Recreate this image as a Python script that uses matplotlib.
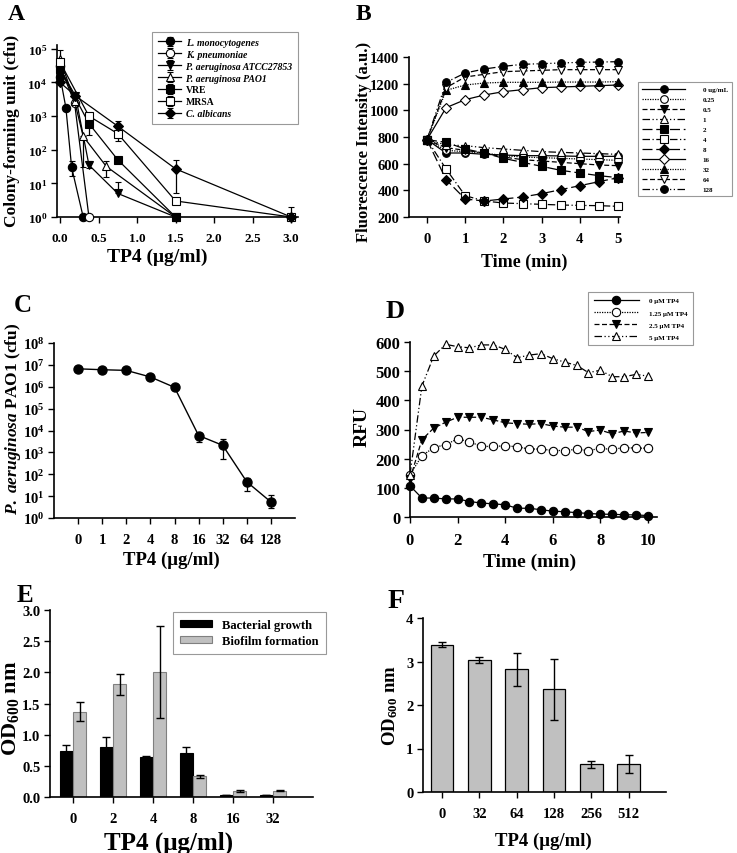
import matplotlib
matplotlib.use("Agg")
import matplotlib.pyplot as plt
import numpy as np
from matplotlib.ticker import NullLocator, LogLocator, FormatStrFormatter

plt.rcParams['font.family'] = ['Liberation Serif', 'DejaVu Serif']
plt.rcParams['font.weight'] = 'bold'
plt.rcParams['axes.labelweight'] = 'bold'
plt.rcParams['mathtext.fontset'] = 'custom'
plt.rcParams['mathtext.rm'] = 'Liberation Serif:bold'
plt.rcParams['mathtext.bf'] = 'Liberation Serif:bold'
plt.rcParams['mathtext.it'] = 'Liberation Serif:italic:bold'
plt.rcParams['axes.linewidth'] = 1.2
plt.rcParams['xtick.major.width'] = 1.0
plt.rcParams['ytick.major.width'] = 1.0
plt.rcParams['xtick.major.size'] = 4
plt.rcParams['ytick.major.size'] = 4

W, H = 737, 854
fig = plt.figure(figsize=(W / 100, H / 100), dpi=100)

# ---------------- data: panel A ----------------
a_names = ['L. monocytogenes', 'K. pneumoniae', 'P. aeruginosa ATCC27853',
           'P. aeruginosa PAO1', 'VRE', 'MRSA', 'C. albicans']
lm_x = [0, 0.075, 0.15, 0.3]
lm_y = [1.5e4, 1.8e3, 30, 1]
lm_lo = [0, 0, 13, 0]
lm_hi = [0, 0, 15, 0]
kp_x = [0, 0.1875, 0.375]
kp_y = [3e4, 2.5e3, 1]
kp_lo = [0, 0, 0]
kp_hi = [0, 0, 0]
atcc_x = [0, 0.2, 0.375, 0.75, 1.5]
atcc_y = [2.5e4, 4e3, 35, 5, 1]
atcc_lo = [0, 0, 7, 0, 0]
atcc_hi = [0, 0, 10, 6, 0]
pao_x = [0, 0.1875, 0.3, 0.6, 1.5]
pao_y = [5e4, 2.8e3, 250, 32, 1]
pao_lo = [2e4, 0, 220, 17, 0]
pao_hi = [4e4, 0, 0, 15, 0]
vre_x = [0, 0.375, 0.75, 1.5]
vre_y = [2.5e4, 600, 50, 1]
vre_lo = [0, 325, 0, 0]
vre_hi = [0, 0, 0, 0]
mrsa_x = [0, 0.375, 0.75, 1.5, 3.0]
mrsa_y = [4e4, 1000, 300, 3, 1]
mrsa_lo = [1.5e4, 0, 120, 0, 0]
mrsa_hi = [0, 0, 0, 0, 0]
ca_x = [0, 0.2, 0.75, 1.5, 3.0]
ca_y = [1e4, 4e3, 500, 27, 1]
ca_lo = [0, 0, 200, 22, 0]
ca_hi = [0, 0, 200, 21, 1]

# ---------------- data: panel B ----------------
b_time = [0, 0.5, 1, 1.5, 2, 2.5, 3, 3.5, 4, 4.5, 5]
b_labels = ['0 ug/mL', '0.25', '0.5', '1', '2', '4', '8', '16', '32', '64', '128']
b_c0 = [780, 680, 680, 670, 665, 660, 660, 658, 655, 655, 655]
b_c025 = [780, 700, 690, 680, 660, 650, 645, 640, 635, 630, 625]
b_c05 = [780, 720, 700, 680, 650, 630, 620, 610, 600, 590, 585]
b_c1 = [780, 740, 735, 720, 710, 700, 690, 685, 680, 675, 670]
b_c2 = [780, 760, 710, 680, 640, 610, 580, 550, 530, 510, 495]
b_c4 = [780, 560, 360, 320, 305, 300, 295, 290, 287, 285, 280]
b_c8 = [780, 480, 335, 320, 335, 350, 375, 405, 435, 465, 495]
b_c16 = [780, 1020, 1080, 1115, 1140, 1155, 1170, 1175, 1180, 1185, 1190]
b_c32 = [780, 1150, 1190, 1205, 1210, 1210, 1210, 1212, 1212, 1212, 1215]
b_c64 = [780, 1170, 1250, 1270, 1290, 1295, 1300, 1305, 1305, 1305, 1305]
b_c128 = [780, 1210, 1280, 1310, 1330, 1345, 1350, 1355, 1360, 1362, 1365]

# ---------------- data: panel C ----------------
c_cats = ['0', '1', '2', '4', '8', '16', '32', '64', '128']
c_cfu = [6.6e6, 6.0e6, 5.6e6, 2.8e6, 9.4e5, 5.9e3, 2.1e3, 45, 5.4]
c_lo = [0, 0, 0, 0, 0, 2.9e3, 1.6e3, 27, 2.4]
c_hi = [0, 0, 0, 0, 0, 2.1e3, 1.9e3, 25, 5.6]

# ---------------- data: panel D ----------------
d_time = [0, 0.5, 1, 1.5, 2, 2.5, 3, 3.5, 4, 4.5, 5, 5.5, 6, 6.5, 7, 7.5, 8, 8.5, 9, 9.5, 10]
d_labels = ['0 \u03bcM TP4', '1.25 \u03bcM TP4', '2.5 \u03bcM TP4', '5 \u03bcM TP4']
d_0 = [107, 65, 65, 62, 62, 53, 48, 45, 42, 30, 30, 25, 20, 18, 15, 12, 10, 9, 8, 7, 5]
d_125 = [145, 210, 238, 248, 268, 258, 242, 242, 244, 241, 233, 233, 228, 228, 232,
         228, 235, 232, 238, 236, 236]
d_25 = [130, 265, 305, 325, 342, 342, 342, 333, 323, 320, 318, 320, 312, 308, 308,
        293, 298, 285, 295, 288, 290]
d_5 = [145, 449, 552, 592, 584, 580, 590, 590, 575, 546, 555, 560, 543, 531, 520,
       495, 503, 481, 481, 489, 483]

# ---------------- data: panel E ----------------
e_cats = ['0', '2', '4', '8', '16', '32']
e_growth = [0.73, 0.81, 0.64, 0.71, 0.03, 0.03]
e_growth_err = [0.10, 0.15, 0.02, 0.09, 0.005, 0.005]
e_biofilm = [1.37, 1.81, 2.00, 0.33, 0.10, 0.10]
e_biofilm_err = [0.15, 0.17, 0.74, 0.025, 0.012, 0.01]

# ---------------- data: panel F ----------------
f_cats = ['0', '32', '64', '128', '256', '512']
f_od = [3.39, 3.04, 2.82, 2.36, 0.64, 0.64]
f_err = [0.05, 0.07, 0.38, 0.70, 0.08, 0.21]


def rect(l, t, r, b):
    return [l / W, 1 - b / H, (r - l) / W, (b - t) / H]


def place_labels(ax, box, xl, xpos, xsize, yl, ypos, ysize):
    l, t, r, b = box
    ax.set_xlabel(xl, fontsize=xsize)
    ax.xaxis.set_label_coords((xpos[0] - l) / (r - l), (b - xpos[1]) / (b - t))
    ax.xaxis.label.set_va('center')
    ax.set_ylabel(yl, fontsize=ysize)
    ax.yaxis.set_label_coords((ypos[0] - l) / (r - l), (b - ypos[1]) / (b - t))
    ax.yaxis.label.set_va('center')
    ax.yaxis.label.set_ha('center')


def style(ax, ts):
    ax.spines['top'].set_visible(False)
    ax.spines['right'].set_visible(False)
    ax.tick_params(direction='out', labelsize=ts)
    ax.tick_params(axis='x', pad=7)
    ax.tick_params(axis='y', pad=3)


def letter(x, y, s, size):
    fig.text(x / W, 1 - y / H, s, ha='center', va='center', fontsize=size,
             fontweight='bold')


# ================= Panel A =================
boxA = (57, 46, 298, 218)
axA = fig.add_axes(rect(*boxA))
a_series = [
    (lm_x, lm_y, lm_lo, lm_hi, 'o', 'black'),
    (kp_x, kp_y, kp_lo, kp_hi, 'o', 'white'),
    (atcc_x, atcc_y, atcc_lo, atcc_hi, 'v', 'black'),
    (pao_x, pao_y, pao_lo, pao_hi, '^', 'white'),
    (vre_x, vre_y, vre_lo, vre_hi, 's', 'black'),
    (mrsa_x, mrsa_y, mrsa_lo, mrsa_hi, 's', 'white'),
    (ca_x, ca_y, ca_lo, ca_hi, 'D', 'black'),
]
for name, (x, y, lo, hi, m, fc) in zip(a_names, a_series):
    ms = 6.0 if m != 'D' else 5.0
    axA.errorbar(x, y, yerr=[lo, hi], color='black', lw=0.9, marker=m, ms=ms,
                 mfc=fc, mec='black', mew=0.8, capsize=2.5, elinewidth=0.9,
                 capthick=0.9, label=name, clip_on=False, zorder=3)
axA.set_yscale('log')
axA.set_ylim(1, 1.3e5)
axA.set_xlim(-0.04, 3.09)
axA.yaxis.set_major_locator(LogLocator(base=10, numticks=10))
axA.yaxis.set_minor_locator(NullLocator())
axA.set_xticks([0, 0.5, 1.0, 1.5, 2.0, 2.5, 3.0])
axA.xaxis.set_major_formatter(FormatStrFormatter('%.1f'))
style(axA, 9.5)
place_labels(axA, boxA, 'TP4 (\u03bcg/ml)', (157, 257), 14,
             'Colony-forming unit (cfu)', (12, 131), 12.5)
legA = axA.legend(loc='upper left', bbox_to_anchor=(152 / W, 1 - 33 / H),
                  bbox_transform=fig.transFigure, fontsize=7, frameon=True,
                  fancybox=False, edgecolor='#999999', framealpha=1,
                  handlelength=2.4, handletextpad=0.5, labelspacing=0.3,
                  borderpad=0.6, borderaxespad=0)
legA.get_frame().set_linewidth(0.8)
for t in legA.get_texts():
    if t.get_text() not in ('VRE', 'MRSA'):
        t.set_fontstyle('italic')
letter(16, 14, 'A', 17)

# ================= Panel B =================
boxB = (409, 58, 620, 218)
axB = fig.add_axes(rect(*boxB))
dd = (0, (6, 2, 1, 2, 1, 2))
b_series = [
    (b_c0, 'o', 'black', '-'),
    (b_c025, 'o', 'white', (0, (1, 1))),
    (b_c05, 'v', 'black', (0, (4, 2))),
    (b_c1, '^', 'white', dd),
    (b_c2, 's', 'black', (0, (8, 3))),
    (b_c4, 's', 'white', (0, (6, 2, 1, 2))),
    (b_c8, 'D', 'black', (0, (8, 3))),
    (b_c16, 'D', 'white', '-'),
    (b_c32, '^', 'black', (0, (1, 1))),
    (b_c64, 'v', 'white', (0, (4, 2))),
    (b_c128, 'o', 'black', dd),
]
for lab, (vals, m, fc, ls) in zip(b_labels, b_series):
    ms = 5.5 if m != 'D' else 4.8
    axB.plot(b_time, vals, ls=ls, color='black', lw=0.9, marker=m, ms=ms,
             mfc=fc, mec='black', mew=0.8, label=lab, clip_on=False)
axB.set_xlim(-0.47, 5.05)
axB.set_ylim(200, 1400)
axB.set_yticks(range(200, 1401, 200))
axB.set_xticks(range(0, 6))
style(axB, 10.5)
place_labels(axB, boxB, 'Time (min)', (524, 262), 13,
             'Fluorescence Intensity (a.u.)', (364, 142), 12)
legB = axB.legend(loc='upper left', bbox_to_anchor=(638 / W, 1 - 83 / H),
                  bbox_transform=fig.transFigure, fontsize=5, frameon=True,
                  fancybox=False, edgecolor='#999999', framealpha=1,
                  handlelength=6.2, handletextpad=2.5, labelspacing=0.6,
                  borderpad=0.6, borderaxespad=0)
legB.get_frame().set_linewidth(0.8)
letter(363, 14, 'B', 17)

# ================= Panel C =================
boxC = (54, 344, 295, 519)
axC = fig.add_axes(rect(*boxC))
cx = np.arange(len(c_cats))
axC.errorbar(cx, c_cfu, yerr=[c_lo, c_hi], color='black', lw=1.0, marker='o',
             ms=6.5, mfc='black', mec='black', capsize=2.5, elinewidth=0.9,
             capthick=0.9, clip_on=False, zorder=3)
axC.set_yscale('log')
axC.set_ylim(1, 1e8)
axC.set_xlim(-1, 9)
axC.yaxis.set_major_locator(LogLocator(base=10, numticks=12))
axC.yaxis.set_minor_locator(NullLocator())
axC.set_xticks(cx)
axC.set_xticklabels(c_cats)
style(axC, 10.5)
place_labels(axC, boxC, 'TP4 (\u03bcg/ml)', (171, 560), 13.5,
             r'$\mathit{P.\ aeruginosa}$ PAO1 (cfu)', (13, 419), 12.5)
letter(23, 306, 'C', 18)

# ================= Panel D =================
boxD = (410, 343, 657, 518)
axD = fig.add_axes(rect(*boxD))
d_series = [
    (d_0, 'o', 'black', '-'),
    (d_125, 'o', 'white', (0, (1, 1))),
    (d_25, 'v', 'black', (0, (4, 2))),
    (d_5, '^', 'white', dd),
]
for lab, (vals, m, fc, ls) in zip(d_labels, d_series):
    axD.plot(d_time, vals, ls=ls, color='black', lw=0.9, marker=m, ms=6,
             mfc=fc, mec='black', mew=0.8, label=lab, clip_on=False, zorder=3)
axD.set_xlim(0, 10.38)
axD.set_ylim(0, 600)
axD.set_xticks(range(0, 11, 2))
axD.set_yticks(range(0, 601, 100))
style(axD, 12)
place_labels(axD, boxD, 'Time (min)', (530, 562), 14, 'RFU', (362, 427), 14)
legD = axD.legend(loc='upper left', bbox_to_anchor=(588 / W, 1 - 293 / H),
                  bbox_transform=fig.transFigure, fontsize=5, frameon=True,
                  fancybox=False, edgecolor='#999999', framealpha=1,
                  handlelength=6.5, handletextpad=1.5, labelspacing=0.9,
                  borderpad=0.8, borderaxespad=0)
legD.get_frame().set_linewidth(0.8)
letter(395, 311, 'D', 19)

# ================= Panel E =================
boxE = (50, 611, 313, 798)
axE = fig.add_axes(rect(*boxE))
ex = np.arange(len(e_cats))
bw = 0.32
axE.bar(ex - 0.17, e_growth, bw, yerr=e_growth_err, color='black',
        edgecolor='black', linewidth=0.8, capsize=3,
        error_kw=dict(elinewidth=1.0, capthick=1.0), label='Bacterial growth')
axE.bar(ex + 0.17, e_biofilm, bw, yerr=e_biofilm_err, color='#c0c0c0',
        edgecolor='#808080', linewidth=0.8, capsize=3,
        error_kw=dict(elinewidth=1.0, capthick=1.0), label='Biofilm formation')
axE.set_xlim(-0.575, 6.0)
axE.set_ylim(0, 3.0)
axE.set_yticks(np.arange(0, 3.01, 0.5))
axE.yaxis.set_major_formatter(FormatStrFormatter('%.1f'))
axE.set_xticks(ex)
axE.set_xticklabels(e_cats)
style(axE, 10.5)
place_labels(axE, boxE, 'TP4 (\u03bcg/ml)', (169, 843), 18,
             'OD$_{600}$ nm', (10, 708), 16)
legE = axE.legend(loc='upper left', bbox_to_anchor=(173 / W, 1 - 613 / H),
                  bbox_transform=fig.transFigure, fontsize=9, frameon=True,
                  fancybox=False, edgecolor='#999999', framealpha=1,
                  handlelength=2.6, handleheight=0.5, handletextpad=0.8,
                  labelspacing=0.35, borderpad=0.55, borderaxespad=0)
legE.get_frame().set_linewidth(0.8)
letter(25, 596, 'E', 18)

# ================= Panel F =================
boxF = (423, 619, 666, 793)
axF = fig.add_axes(rect(*boxF))
fx = np.arange(len(f_cats))
axF.bar(fx, f_od, 0.61, yerr=f_err, color='#c0c0c0', edgecolor='black',
        linewidth=0.9, capsize=3, error_kw=dict(elinewidth=1.0, capthick=1.0))
axF.set_xlim(-0.51, 6.0)
axF.set_ylim(0, 4)
axF.set_yticks(range(0, 5))
axF.set_xticks(fx)
axF.set_xticklabels(f_cats)
style(axF, 10.5)
place_labels(axF, boxF, 'TP4 (\u03bcg/ml)', (543, 841), 13.5,
             'OD$_{600}$ nm', (390, 706), 13.5)
letter(396, 602, 'F', 20)

fig.savefig('out.png', dpi=100)
